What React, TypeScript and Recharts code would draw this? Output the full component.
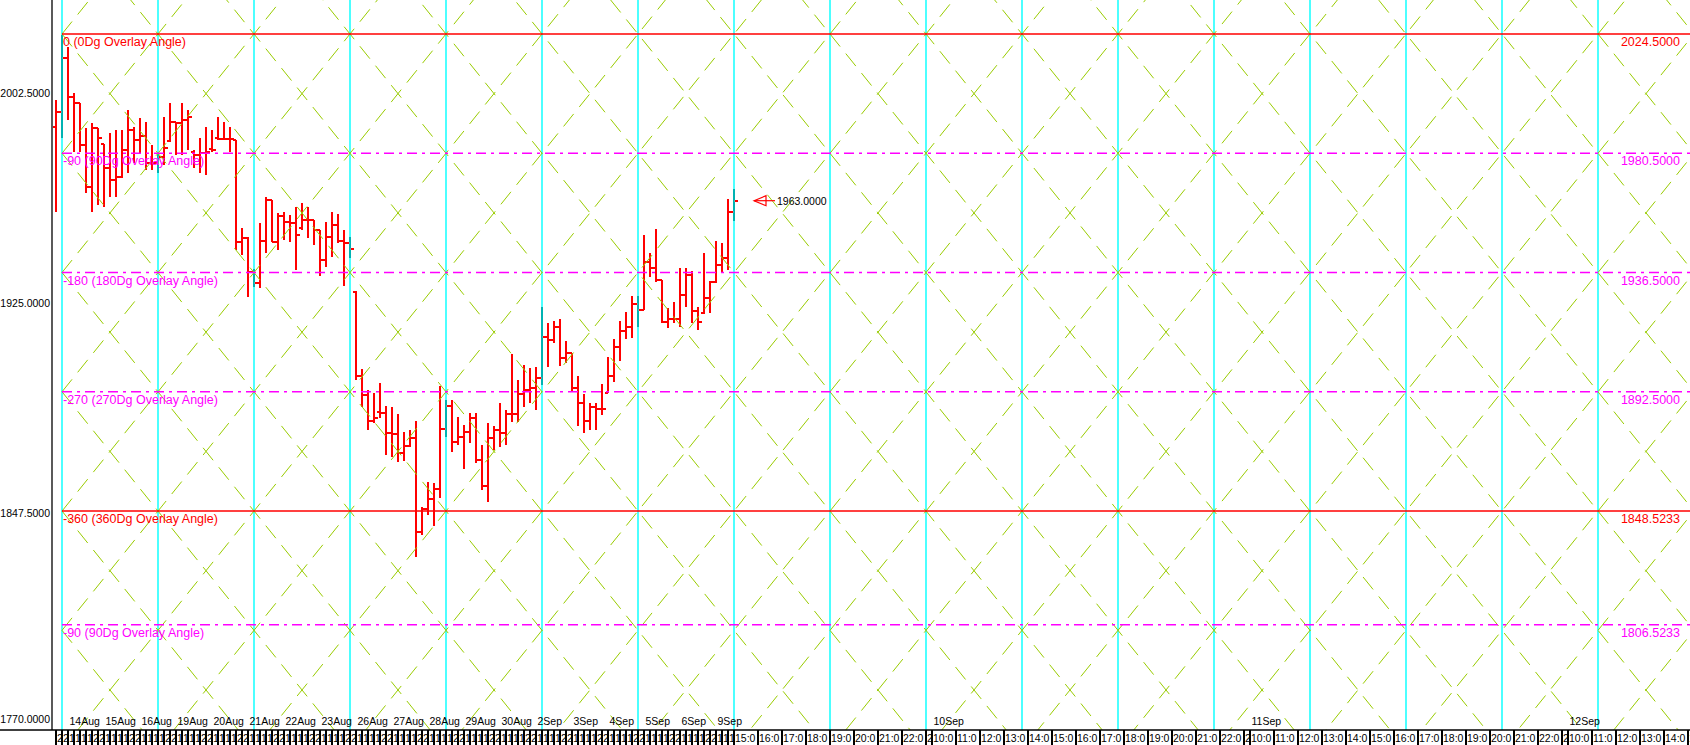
import { ComposedChart, Bar, XAxis, YAxis, ReferenceLine, ReferenceDot } from 'recharts';

// OHLC bars, one per bar (13 Aug late bars through 9 Sep)
const opens = [
  1990.3, 1995.8, 2015.7, 2001.4, 1998.9, 1983.5, 1968.2, 1989.7, 1984.0, 1974.9,
  1970.6, 1971.8, 1981.7, 1989.1, 1985.4, 1986.9, 1976.8, 1976.8, 1979.2, 1985.0,
  1992.1, 1991.5, 1992.7, 1981.0, 1979.8, 1980.5, 1982.0, 1986.0, 1985.6, 1985.6,
  1985.4, 1947.9, 1949.1, 1936.8, 1932.5, 1948.1, 1963.2, 1947.9, 1957.3, 1955.0,
  1954.6, 1953.0, 1955.9, 1955.9, 1952.2, 1941.1, 1949.7, 1954.0, 1948.0, 1947.5,
  1929.4, 1898.3, 1891.3, 1881.7, 1885.0, 1884.6, 1877.4, 1876.9, 1869.8, 1872.6,
  1875.6, 1840.9, 1849.2, 1853.0, 1856.5, 1878.7, 1887.3, 1874.1, 1875.7, 1877.6,
  1883.0, 1867.4, 1857.8, 1875.3, 1878.4, 1877.4, 1884.3, 1884.3, 1891.7, 1893.2,
  1894.0, 1897.7, 1912.6, 1911.6, 1916.3, 1904.8, 1906.7, 1894.0, 1888.2, 1881.7,
  1886.8, 1886.0, 1892.0, 1898.3, 1909.0, 1915.0, 1916.5, 1924.9, 1922.7, 1940.5,
  1938.0, 1933.7, 1918.4, 1919.2, 1919.2, 1928.2, 1935.6, 1922.4, 1921.5, 1927.2,
  1933.1, 1939.3, 1942.0, 1958.9,
];
const highs = [
  2000.1, 2024.1, 2019.8, 2002.6, 1998.9, 1989.7, 1991.5, 1989.7, 1984.1, 1987.8,
  1989.1, 1989.1, 1996.4, 1990.3, 1993.4, 1992.1, 1983.5, 1980.4, 1994.0, 1998.9,
  1992.1, 1998.9, 1996.4, 1981.7, 1986.0, 1990.3, 1989.1, 1994.0, 1992.1, 1990.3,
  1985.4, 1953.0, 1949.7, 1937.7, 1954.6, 1964.2, 1963.2, 1958.6, 1958.9, 1957.7,
  1960.8, 1962.3, 1960.8, 1955.9, 1952.2, 1955.3, 1958.9, 1958.1, 1952.2, 1949.7,
  1929.7, 1900.9, 1893.2, 1891.9, 1895.9, 1887.3, 1887.0, 1884.2, 1877.8, 1878.4,
  1881.7, 1850.1, 1859.4, 1858.7, 1894.6, 1889.5, 1889.5, 1883.3, 1880.3, 1884.6,
  1884.6, 1872.9, 1881.1, 1879.9, 1888.2, 1885.8, 1906.3, 1896.9, 1902.4, 1901.2,
  1901.8, 1923.7, 1918.0, 1918.7, 1919.2, 1911.4, 1906.7, 1898.3, 1891.7, 1888.2,
  1888.2, 1895.3, 1905.5, 1912.0, 1918.5, 1922.1, 1927.8, 1927.8, 1950.3, 1943.6,
  1952.4, 1933.7, 1923.3, 1925.7, 1938.0, 1938.0, 1937.1, 1923.9, 1943.6, 1933.5,
  1948.2, 1947.5, 1963.6, 1967.2,
];
const lows = [
  1959.0, 1986.0, 1992.7, 1981.1, 1981.1, 1965.7, 1959.0, 1961.4, 1960.8, 1964.5,
  1964.5, 1971.2, 1973.1, 1976.8, 1980.5, 1974.3, 1974.3, 1973.1, 1976.2, 1984.8,
  1979.8, 1979.8, 1981.7, 1974.9, 1973.1, 1972.5, 1981.1, 1985.4, 1985.4, 1981.1,
  1944.8, 1943.0, 1927.6, 1931.0, 1930.7, 1943.8, 1947.9, 1944.8, 1948.5, 1947.9,
  1937.4, 1952.2, 1949.1, 1946.6, 1935.2, 1938.7, 1942.1, 1947.3, 1931.5, 1941.7,
  1896.9, 1887.0, 1878.4, 1880.9, 1883.0, 1869.0, 1868.6, 1866.7, 1867.1, 1872.3,
  1831.5, 1839.5, 1847.1, 1843.0, 1853.2, 1876.0, 1870.2, 1872.9, 1863.9, 1873.5,
  1866.1, 1856.3, 1852.0, 1871.0, 1872.3, 1872.9, 1881.5, 1881.5, 1886.8, 1888.2,
  1885.8, 1895.0, 1901.5, 1910.6, 1902.0, 1903.0, 1892.6, 1879.9, 1877.2, 1878.4,
  1878.4, 1884.0, 1891.9, 1896.0, 1904.0, 1912.0, 1912.2, 1916.5, 1922.7, 1935.0,
  1933.1, 1918.0, 1915.9, 1917.8, 1916.5, 1923.9, 1917.8, 1915.3, 1921.2, 1921.4,
  1932.5, 1936.2, 1937.4, 1955.6,
];
const closes = [
  1995.8, 2015.7, 2001.4, 1998.9, 1983.5, 1968.2, 1989.7, 1986.0, 1974.9, 1970.6,
  1971.8, 1981.7, 1989.1, 1985.4, 1986.9, 1976.8, 1976.8, 1979.2, 1982.3, 1992.1,
  1991.5, 1992.7, 1994.0, 1979.8, 1980.5, 1981.1, 1981.7, 1985.6, 1985.6, 1985.6,
  1947.9, 1949.1, 1936.8, 1932.5, 1948.1, 1963.2, 1947.9, 1957.3, 1955.0, 1954.6,
  1950.3, 1955.9, 1955.9, 1952.2, 1941.1, 1949.7, 1954.0, 1948.0, 1947.5, 1945.1,
  1898.3, 1891.3, 1881.7, 1882.7, 1884.6, 1877.4, 1876.9, 1869.8, 1872.6, 1875.6,
  1840.9, 1849.2, 1853.0, 1856.5, 1878.7, 1887.3, 1874.1, 1875.7, 1877.6, 1883.0,
  1867.4, 1857.8, 1875.3, 1878.4, 1877.4, 1884.3, 1884.3, 1891.7, 1893.2, 1894.0,
  1897.7, 1912.6, 1911.6, 1916.3, 1904.8, 1906.7, 1894.0, 1888.2, 1881.7, 1886.8,
  1886.0, 1886.0, 1898.3, 1909.0, 1915.0, 1916.5, 1924.9, 1922.7, 1940.5, 1938.0,
  1933.7, 1918.4, 1919.2, 1919.2, 1928.2, 1935.6, 1922.4, 1918.4, 1927.2, 1933.1,
  1939.3, 1942.0, 1958.9, 1963.0,
];

// time axis labels
const pastDays = ['14Aug', '15Aug', '16Aug', '19Aug', '20Aug', '21Aug', '22Aug', '23Aug', '26Aug', '27Aug',
  '28Aug', '29Aug', '30Aug', '2Sep', '3Sep', '4Sep', '5Sep', '6Sep', '9Sep'];
const futureDays = ['10Sep', '11Sep', '12Sep'];
const barHours = ['10:00', '11:00', '12:00', '13:00', '20:00', '22:00'];
const restOfDayHours = ['15:00', '16:00', '17:00', '18:00', '19:00', '20:00', '21:00', '22:00', '23:00'];
const dayHours = ['10:00', '11:00', '12:00', '13:00', '14:00', '15:00', '16:00', '17:00', '18:00', '19:00',
  '20:00', '21:00', '22:00', '23:00'];

// overlay angle levels
const levelValues = [2024.5, 1980.5, 1936.5, 1892.5, 1848.5233, 1806.5233];
const levelAngles = [0, 90, 180, 270, 360, 90];
const levelNames = ['0 (0Dg Overlay Angle)', '-90 (90Dg Overlay Angle)', '-180 (180Dg Overlay Angle)',
  '-270 (270Dg Overlay Angle)', '-360 (360Dg Overlay Angle)', '-90 (90Dg Overlay Angle)'];

const yTicks = [2002.5, 1925, 1847.5, 1770];

// layout
const W = 1690;
const H = 745;
const Y_AXIS_W = 52;
const X_AXIS_H = 15;
const X_MIN = -2 / 3;
const X_MAX = X_MIN + 273;
const Y_MIN = 1767.73;
const Y_MAX = 2037.04;
const PX = (W - Y_AXIS_W) / (X_MAX - X_MIN);
const FONT = '"Liberation Sans", Arial, sans-serif';
const CHAR_W = 5.84;

// gann grid
const CYCLE = 16;
const FIRST_CYCLE = 1;
const STEP = 44;
const BASE = 2024.5;
const SLOPE = STEP / CYCLE;

const data = opens.map((o, i) => ({ i, open: o, high: highs[i], low: lows[i], close: closes[i] }));
const lastIdx = data.length - 1;

type Cell = { pos: number; width: number; hour: string; day?: string };
const cells: Cell[] = [];
for (let i = 0; i < lastIdx; i++) {
  const d = (i - 2) / 6;
  cells.push({ pos: i, width: 1, hour: barHours[(i + 4) % 6], day: Number.isInteger(d) ? pastDays[d] : undefined });
}
let pos = lastIdx;
restOfDayHours.forEach((h, k) => {
  const w = k === restOfDayHours.length - 1 ? 1 : 4;
  cells.push({ pos, width: w, hour: h });
  pos += w;
});
futureDays.forEach((day) => {
  dayHours.forEach((h, k) => {
    if (pos > X_MAX) return;
    const w = k === dayHours.length - 1 ? 1 : 4;
    cells.push({ pos, width: w, hour: h, day: k === 0 ? day : undefined });
    pos += w;
  });
});
const cellByPos = new Map(cells.map((c) => [c.pos, c]));

const cycleLines: number[] = [];
for (let x = FIRST_CYCLE; x <= X_MAX; x += CYCLE) cycleLines.push(x);

const diagonals: { x1: number; y1: number; x2: number; y2: number }[] = [];
for (let m = -18; m <= 24; m++) {
  const start = BASE - STEP * m;
  const run = X_MAX - FIRST_CYCLE;
  diagonals.push({ x1: FIRST_CYCLE, y1: start, x2: X_MAX, y2: start - SLOPE * run });
  diagonals.push({ x1: FIRST_CYCLE, y1: start, x2: X_MAX, y2: start + SLOPE * run });
}

const OhlcShape = (props: any) => {
  const { x, y, width, height, payload } = props;
  if (!payload) return null;
  const top = Math.min(y, y + height);
  const h = Math.abs(height);
  const cx = Math.round(x + width / 2);
  const span = payload.high - payload.low || 1;
  const yOf = (v: number) => top + (h * (payload.high - v)) / span;
  const stem = (payload.i - FIRST_CYCLE) % CYCLE === 0 ? '#000000' : '#ff0000';
  return (
    <g shapeRendering="crispEdges">
      <line x1={cx} x2={cx} y1={top} y2={top + h} stroke={stem} strokeWidth={2} />
      <line x1={cx - 3} x2={cx} y1={yOf(payload.open)} y2={yOf(payload.open)} stroke="#ff0000" strokeWidth={2} />
      <line x1={cx} x2={cx + 4} y1={yOf(payload.close)} y2={yOf(payload.close)} stroke="#ff0000" strokeWidth={2} />
    </g>
  );
};

// each time cell shows only the characters that start inside it, clipped at its right edge
const AxisCell = (props: any) => {
  const { x, y, payload } = props;
  const cell = cellByPos.get(payload.value);
  if (!cell) return null;
  const w = cell.width * PX;
  const shown = cell.hour.slice(0, Math.max(1, Math.ceil((w - 2) / CHAR_W)));
  return (
    <g>
      <line x1={x} x2={x} y1={y} y2={y + X_AXIS_H} stroke="#000" strokeWidth={1.3} shapeRendering="crispEdges" />
      <svg x={x + 0.5} y={y} width={Math.max(w - 0.5, 1)} height={X_AXIS_H} overflow="hidden">
        <text x={0.5} y={12} fontSize={10.5} fontFamily={FONT} fill="#000">{shown}</text>
      </svg>
      {cell.day && (
        <text x={x + 1.5} y={y - 5} fontSize={10.5} fontFamily={FONT} fill="#000">{cell.day}</text>
      )}
    </g>
  );
};

const PriceTick = (props: any) => {
  const { y, payload } = props;
  const atBottom = payload.value === yTicks[yTicks.length - 1];
  return (
    <g>
      {atBottom && <line x1={0} x2={Y_AXIS_W} y1={H - X_AXIS_H} y2={H - X_AXIS_H} stroke="#000" strokeWidth={1.3} />}
      <text x={50} y={atBottom ? y - 1 : y + 3} textAnchor="end" fontSize={10.5} fontFamily={FONT} fill="#000">
        {payload.value.toFixed(4)}
      </text>
    </g>
  );
};

const levelColor = (angle: number) => (angle % 360 === 0 ? '#ff0000' : '#ff00ff');

const App = () => {
  const last = data[lastIdx];
  return (
    <div style={{ position: 'absolute', left: 0, top: 0, width: W, height: H, background: '#ffffff' }}>
      <ComposedChart width={W} height={H} data={data} margin={{ top: 0, right: 0, bottom: 0, left: 0 }}>
        <XAxis
          dataKey="i"
          type="number"
          domain={[X_MIN, X_MAX]}
          allowDataOverflow
          ticks={cells.map((c) => c.pos)}
          interval={0}
          tick={<AxisCell />}
          tickLine={false}
          tickSize={0}
          tickMargin={0}
          height={X_AXIS_H}
          axisLine={{ stroke: '#000', strokeWidth: 1.3 }}
        />
        <YAxis
          type="number"
          domain={[Y_MIN, Y_MAX]}
          allowDataOverflow
          ticks={yTicks}
          interval={0}
          tick={<PriceTick />}
          tickLine={false}
          width={Y_AXIS_W}
          axisLine={{ stroke: '#000', strokeWidth: 1.3 }}
        />

        {cycleLines.map((x) => (
          <ReferenceLine key={`c${x}`} x={x} stroke="#00ffff" strokeWidth={1.4} ifOverflow="hidden" />
        ))}

        {diagonals.map((d, k) => (
          <ReferenceLine
            key={`d${k}`}
            segment={[{ x: d.x1, y: d.y1 }, { x: d.x2, y: d.y2 }]}
            stroke="#99cc00"
            strokeWidth={1}
            strokeDasharray="16 9"
            ifOverflow="hidden"
          />
        ))}

        {levelValues.map((v, k) => (
          <ReferenceLine
            key={`l${k}`}
            segment={[{ x: FIRST_CYCLE, y: v }, { x: X_MAX, y: v }]}
            stroke={levelColor(levelAngles[k])}
            strokeWidth={1.5}
            strokeDasharray={levelAngles[k] % 360 === 0 ? undefined : '10 5 3 5'}
            ifOverflow="hidden"
          />
        ))}

        <Bar dataKey={(d: any) => [d.low, d.high]} barSize={6} shape={<OhlcShape />} isAnimationActive={false} />

        {levelValues.map((v, k) => (
          <ReferenceDot
            key={`ll${k}`}
            x={FIRST_CYCLE}
            y={v}
            r={0}
            ifOverflow="visible"
            shape={(p: any) => (
              <text x={p.cx + 1} y={p.cy + 12} fontSize={12.5} fontFamily={FONT} fill={levelColor(levelAngles[k])}>
                {levelNames[k]}
              </text>
            )}
          />
        ))}
        {levelValues.map((v, k) => (
          <ReferenceDot
            key={`lr${k}`}
            x={X_MAX}
            y={v}
            r={0}
            ifOverflow="visible"
            shape={(p: any) => (
              <text x={p.cx - 10} y={p.cy + 12} textAnchor="end" fontSize={12.5} fontFamily={FONT} fill={levelColor(levelAngles[k])}>
                {v.toFixed(4)}
              </text>
            )}
          />
        ))}

        <ReferenceDot
          x={last.i}
          y={last.close}
          r={0}
          ifOverflow="visible"
          shape={(p: any) => {
            const tip = p.cx + 20;
            return (
              <g>
                <polygon points={`${tip},${p.cy} ${tip + 12},${p.cy - 5} ${tip + 12},${p.cy + 5}`} fill="none" stroke="#ff0000" strokeWidth={1.2} />
                <line x1={tip} x2={tip + 21} y1={p.cy} y2={p.cy} stroke="#ff0000" strokeWidth={1.2} />
                <text x={tip + 23} y={p.cy + 4} fontSize={10.5} fontFamily={FONT} fill="#000">
                  {last.close.toFixed(4)}
                </text>
              </g>
            );
          }}
        />
      </ComposedChart>
    </div>
  );
};

export default App;
